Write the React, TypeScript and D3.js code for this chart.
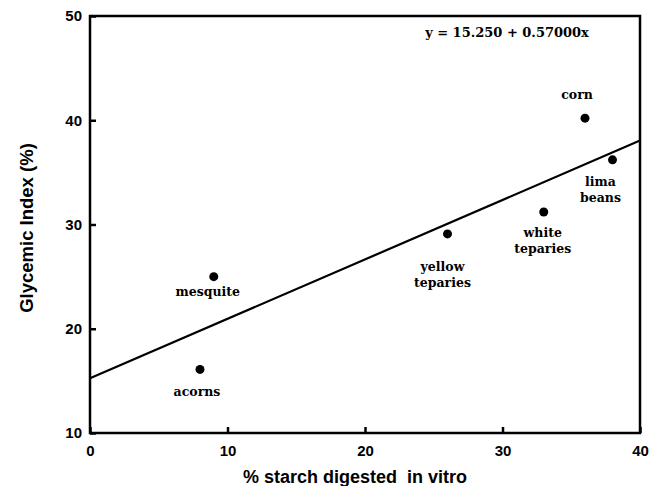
import { useEffect, useRef } from "react";
import * as d3 from "d3";

// values
const foods = ["acorns", "mesquite", "yellow teparies", "white teparies", "corn", "lima beans"];
const starchDigested = [8, 9, 26, 33, 36, 38];
const glycemicIndex = [16.1, 25, 29.1, 31.2, 40.2, 36.2];
const xTicks = [0, 10, 20, 30, 40];
const yTicks = [10, 20, 30, 40, 50];
const intercept = 15.25;
const slope = 0.57;

// label placement relative to each point (dx, dy of first line, in px)
const labelOffsets: [number, number][] = [
  [-3, 27],
  [-6, 19],
  [-5, 37],
  [-1, 25],
  [-8, -19],
  [-12, 26],
];

const App = () => {
  const ref = useRef<SVGSVGElement>(null);

  useEffect(() => {
    const svg = d3.select(ref.current);
    svg.selectAll("*").remove();

    const width = 657;
    const height = 486;
    const margin = { top: 16, right: 17, bottom: 53, left: 90 };

    const x = d3.scaleLinear().domain([0, 40]).range([margin.left, width - margin.right]);
    const y = d3.scaleLinear().domain([10, 50]).range([height - margin.bottom, margin.top]);

    svg.attr("width", width).attr("height", height).style("display", "block");

    // frame
    svg
      .append("rect")
      .attr("x", x(0))
      .attr("y", y(50))
      .attr("width", x(40) - x(0))
      .attr("height", y(10) - y(50))
      .attr("fill", "none")
      .attr("stroke", "#000")
      .attr("stroke-width", 2.5);

    // axes with inward ticks
    const xAxis = svg
      .append("g")
      .attr("transform", `translate(0,${y(10)})`)
      .call(d3.axisBottom(x).tickValues(xTicks).tickSizeInner(-6).tickSizeOuter(0).tickPadding(12));
    xAxis.select(".domain").remove();
    xAxis.selectAll("line").attr("stroke-width", 2.5);
    xAxis
      .selectAll("text")
      .attr("font-family", "Liberation Sans, Arial, sans-serif")
      .attr("font-weight", "bold")
      .attr("font-size", 15)
      .attr("fill", "#000");

    const yAxis = svg
      .append("g")
      .attr("transform", `translate(${x(0)},0)`)
      .call(d3.axisLeft(y).tickValues(yTicks).tickSizeInner(-6).tickSizeOuter(0).tickPadding(8));
    yAxis.select(".domain").remove();
    yAxis.selectAll("line").attr("stroke-width", 2.5);
    yAxis
      .selectAll("text")
      .attr("font-family", "Liberation Sans, Arial, sans-serif")
      .attr("font-weight", "bold")
      .attr("font-size", 15)
      .attr("fill", "#000");

    // regression line
    const line = d3
      .line<number>()
      .x((d) => x(d))
      .y((d) => y(intercept + slope * d));
    svg
      .append("path")
      .datum([0, 40])
      .attr("d", line)
      .attr("fill", "none")
      .attr("stroke", "#000")
      .attr("stroke-width", 2.2);

    // points
    svg
      .selectAll("circle.pt")
      .data(foods)
      .enter()
      .append("circle")
      .attr("class", "pt")
      .attr("cx", (_, i) => x(starchDigested[i]))
      .attr("cy", (_, i) => y(glycemicIndex[i]))
      .attr("r", 4.5)
      .attr("fill", "#000");

    // point labels
    const labels = svg
      .selectAll("text.lbl")
      .data(foods)
      .enter()
      .append("text")
      .attr("class", "lbl")
      .attr("text-anchor", "middle")
      .attr("font-family", "DejaVu Serif, serif")
      .attr("font-weight", "bold")
      .attr("font-size", 12.5)
      .attr("fill", "#000");
    labels.each(function (d, i) {
      const words = d.split(" ");
      const cx = x(starchDigested[i]) + labelOffsets[i][0];
      const cy = y(glycemicIndex[i]) + labelOffsets[i][1];
      words.forEach((w, j) => {
        d3.select(this)
          .append("tspan")
          .attr("x", cx)
          .attr("y", cy + j * 16)
          .text(w);
      });
    });

    // equation
    svg
      .append("text")
      .attr("x", 507)
      .attr("y", 37)
      .attr("text-anchor", "middle")
      .attr("font-family", "DejaVu Serif, serif")
      .attr("font-weight", "bold")
      .attr("font-size", 13)
      .text(`y = ${intercept.toFixed(3)} + ${slope.toFixed(5)}x`);

    // axis titles
    svg
      .append("text")
      .attr("x", 355)
      .attr("y", 483)
      .attr("text-anchor", "middle")
      .attr("font-family", "Liberation Sans, Arial, sans-serif")
      .attr("font-weight", "bold")
      .attr("font-size", 18)
      .attr("xml:space", "preserve")
      .text("% starch digested  in vitro");

    svg
      .append("text")
      .attr("transform", `translate(33,228) rotate(-90)`)
      .attr("text-anchor", "middle")
      .attr("font-family", "Liberation Sans, Arial, sans-serif")
      .attr("font-weight", "bold")
      .attr("font-size", 18.5)
      .text("Glycemic Index (%)");
  }, []);

  return <svg ref={ref} style={{ position: "absolute", left: 0, top: 0 }}></svg>;
};

export default App;
